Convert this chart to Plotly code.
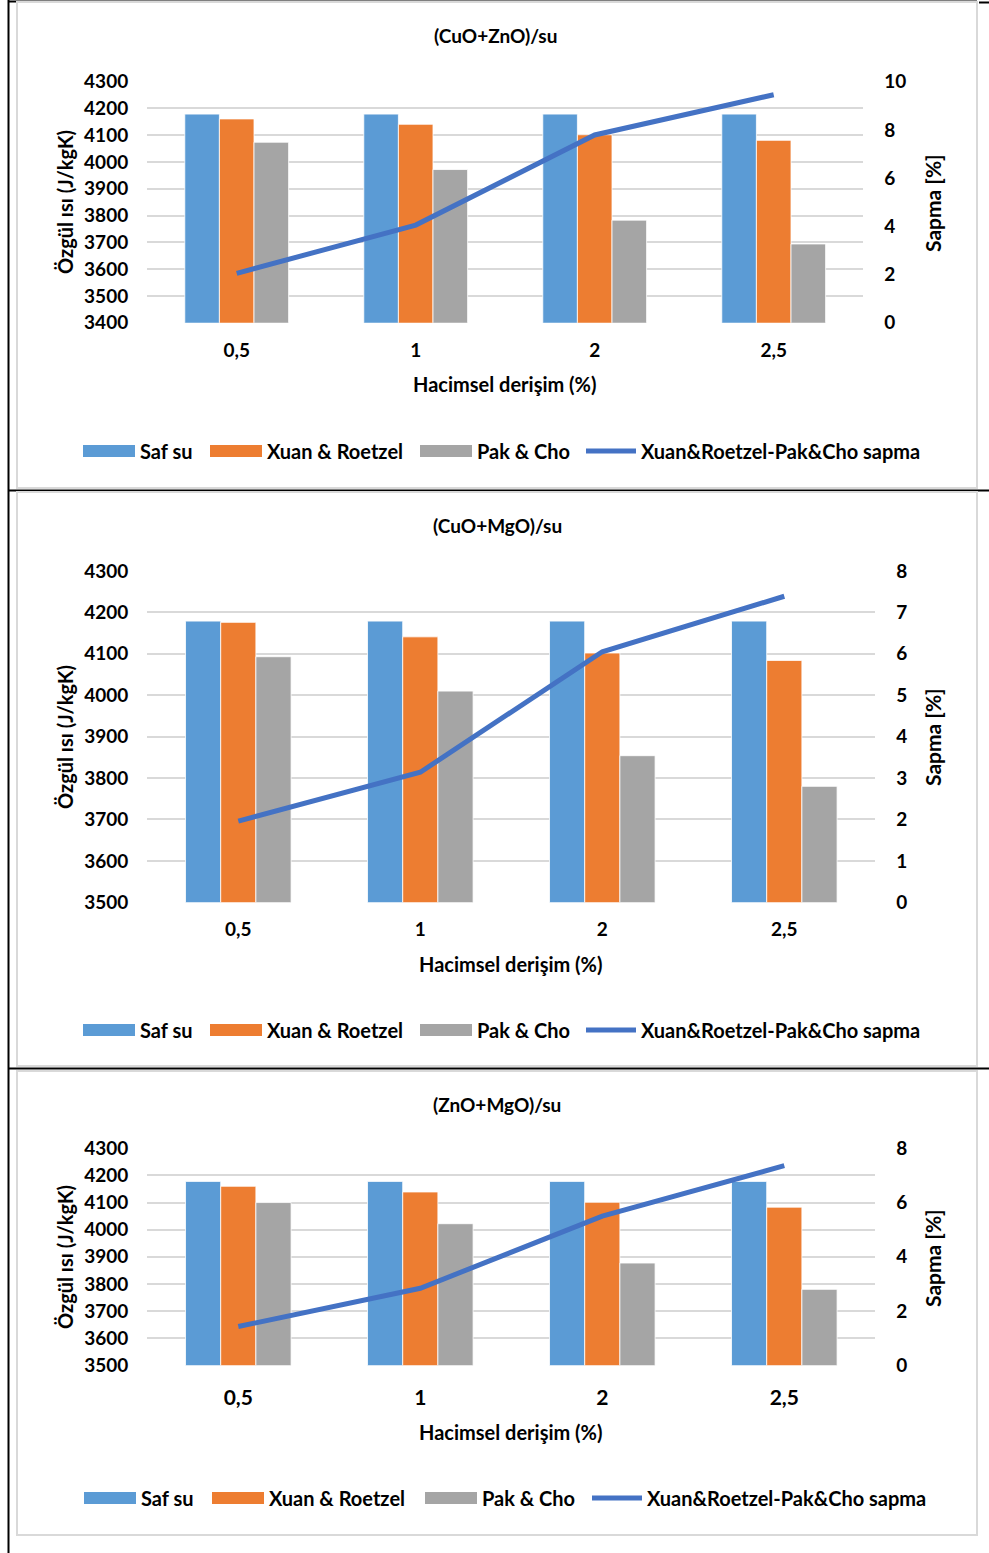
import plotly.graph_objects as go

# ---- data -------------------------------------------------------------
categories = ["0,5", "1", "2", "2,5"]
series_names = ["Saf su", "Xuan & Roetzel", "Pak & Cho"]
line_name = "Xuan&Roetzel-Pak&Cho sapma"

chart_titles = ["(CuO+ZnO)/su", "(CuO+MgO)/su", "(ZnO+MgO)/su"]

cuo_zno_saf_su = [4179, 4179, 4179, 4179]
cuo_zno_xuan = [4161, 4141, 4102, 4081]
cuo_zno_pak = [4074, 3972, 3783, 3694]
cuo_zno_sapma = [2.05, 4.05, 7.79, 9.46]

cuo_mgo_saf_su = [4179, 4179, 4179, 4179]
cuo_mgo_xuan = [4176, 4141, 4102, 4084]
cuo_mgo_pak = [4093, 4010, 3854, 3780]
cuo_mgo_sapma = [1.96, 3.14, 6.05, 7.39]

zno_mgo_saf_su = [4178, 4178, 4178, 4178]
zno_mgo_xuan = [4160, 4139, 4101, 4083]
zno_mgo_pak = [4100, 4022, 3877, 3780]
zno_mgo_sapma = [1.43, 2.84, 5.50, 7.36]

left_ranges = [(3400, 4300), (3500, 4300), (3500, 4300)]
right_ranges = [(0, 10, 2), (0, 8, 1), (0, 8, 2)]

y_title = "Özgül ısı (J/kgK)"
y2_title = "Sapma [%]"
x_title = "Hacimsel derişim (%)"

# ---- styling ------------------------------------------------------------
W, H = 989, 1553
FONT = "Lato"
BAR_COLORS = ["#5B9BD5", "#ED7D31", "#A5A5A5"]
LINE_COLOR = "#4472C4"
GRID = "#D9D9D9"

bar_data = [
    (cuo_zno_saf_su, cuo_zno_xuan, cuo_zno_pak, cuo_zno_sapma),
    (cuo_mgo_saf_su, cuo_mgo_xuan, cuo_mgo_pak, cuo_mgo_sapma),
    (zno_mgo_saf_su, zno_mgo_xuan, zno_mgo_pak, zno_mgo_sapma),
]

# pixel geometry of each panel: plot area, text rows, frame box
panels = [
    dict(px=(147.2, 863.2), py=(81.7, 322.7), title_y=36, title_x=495,
         xt_y=384, xt_x=505, yt_y=202, y2t_y=203, leg_y=451,
         box=(17, 2, 977, 488), xtick=19, xstand=14, leg_x=(83, 210, 420, 584)),
    dict(px=(147.3, 875.3), py=(571, 902.3), title_y=525, title_x=497,
         xt_y=964, xt_x=511, yt_y=737, y2t_y=737, leg_y=1030,
         box=(17, 492, 977, 1066), xtick=19, xstand=14, leg_x=(83, 210, 420, 584)),
    dict(px=(147.3, 875.3), py=(1148.3, 1365.3), title_y=1104, title_x=497,
         xt_y=1432, xt_x=511, yt_y=1257, y2t_y=1258, leg_y=1498,
         box=(17, 1071, 977, 1535), xtick=21, xstand=18, leg_x=(84, 212, 425, 590)),
]


def fx(px):
    return px / W


def fy(py):
    return 1 - py / H


fig = go.Figure()
shapes = []
annotations = []

# table frame lines
shapes.append(dict(type="line", xref="paper", yref="paper", x0=fx(8.5), x1=fx(8.5),
                   y0=0, y1=1, line=dict(color="black", width=2)))
for yy, x0, x1 in [(1.5, 8, 977), (2.5, 979, 989), (490.5, 8, 989), (1068.5, 8, 989)]:
    shapes.append(dict(type="line", xref="paper", yref="paper", x0=fx(x0), x1=fx(x1),
                       y0=fy(yy), y1=fy(yy), line=dict(color="black", width=2)))

for i, (p, data) in enumerate(zip(panels, bar_data), start=1):
    xa = "x" if i == 1 else f"x{i}"
    ya_left = 2 * i - 1
    ya_right = 2 * i
    yl = "y" if ya_left == 1 else f"y{ya_left}"
    yr = f"y{ya_right}"

    for name, vals, col in zip(series_names, data[:3], BAR_COLORS):
        fig.add_trace(go.Bar(x=categories, y=vals, name=name, xaxis=xa, yaxis=yl,
                             marker=dict(color=col, line=dict(color="white", width=0.8)),
                             showlegend=False))
    fig.add_trace(go.Scatter(x=categories, y=data[3], name=line_name, xaxis=xa, yaxis=yr,
                             mode="lines", line=dict(color=LINE_COLOR, width=5),
                             showlegend=False))

    lo, hi = left_ranges[i - 1]
    r0, r1, rd = right_ranges[i - 1]
    tick_font = dict(family=FONT, size=19, color="black", weight="bold")

    fig.layout[f"xaxis{'' if i == 1 else i}"] = dict(
        domain=[fx(p["px"][0]), fx(p["px"][1])], anchor=yl, type="category",
        showgrid=False, zeroline=False, showline=False, ticks="", automargin=False,
        tickfont=dict(family=FONT, size=p["xtick"], color="black", weight="bold"),
        ticklabelstandoff=p["xstand"],
    )
    fig.layout[f"yaxis{'' if ya_left == 1 else ya_left}"] = dict(
        domain=[fy(p["py"][1]), fy(p["py"][0])], anchor=xa, range=[lo, hi], dtick=100,
        showgrid=True, gridcolor=GRID, gridwidth=2, zeroline=False, showline=False,
        ticks="", tickfont=tick_font, ticklabelstandoff=18, automargin=False,
    )
    fig.layout[f"yaxis{ya_right}"] = dict(
        overlaying=yl, side="right", anchor=xa, range=[r0, r1], dtick=rd,
        showgrid=False, zeroline=False, showline=False, ticks="", automargin=False,
        tickfont=tick_font, ticklabelstandoff=20,
    )

    # chart border
    bx0, by0, bx1, by1 = p["box"]
    shapes.append(dict(type="rect", xref="paper", yref="paper", x0=fx(bx0), x1=fx(bx1),
                       y0=fy(by1), y1=fy(by0), line=dict(color=GRID, width=2)))

    # titles
    bold = dict(family=FONT, color="black", weight="bold")
    annotations.append(dict(text=chart_titles[i - 1], x=fx(p["title_x"]), y=fy(p["title_y"]),
                            xref="paper", yref="paper", showarrow=False,
                            xanchor="center", yanchor="middle", font=dict(size=19, **bold)))
    annotations.append(dict(text=x_title, x=fx(p["xt_x"]), y=fy(p["xt_y"]),
                            xref="paper", yref="paper", showarrow=False,
                            xanchor="center", yanchor="middle", font=dict(size=20, **bold)))
    annotations.append(dict(text=y_title, x=fx(65), y=fy(p["yt_y"]), textangle=-90,
                            xref="paper", yref="paper", showarrow=False,
                            xanchor="center", yanchor="middle", font=dict(size=20, **bold)))
    annotations.append(dict(text=y2_title, x=fx(932), y=fy(p["y2t_y"]), textangle=-90,
                            xref="paper", yref="paper", showarrow=False,
                            xanchor="center", yanchor="middle", font=dict(size=21, **bold)))

    # legend row
    ly = p["leg_y"]
    for k, (name, col) in enumerate(zip(series_names, BAR_COLORS)):
        sx = p["leg_x"][k]
        shapes.append(dict(type="rect", xref="paper", yref="paper", x0=fx(sx), x1=fx(sx + 52),
                           y0=fy(ly + 6), y1=fy(ly - 6), fillcolor=col, line=dict(width=0)))
        annotations.append(dict(text=name, x=fx(sx + 55), y=fy(ly), xref="paper", yref="paper",
                                showarrow=False, xanchor="left", yanchor="middle",
                                font=dict(size=20, **bold)))
    sx = p["leg_x"][3]
    shapes.append(dict(type="line", xref="paper", yref="paper", x0=fx(sx + 2), x1=fx(sx + 52),
                       y0=fy(ly), y1=fy(ly), line=dict(color=LINE_COLOR, width=5)))
    annotations.append(dict(text=line_name, x=fx(sx + 55), y=fy(ly), xref="paper", yref="paper",
                            showarrow=False, xanchor="left", yanchor="middle",
                            font=dict(size=20, **bold)))

fig.update_layout(
    width=W, height=H, autosize=False,
    margin=dict(l=0, r=0, t=0, b=0, autoexpand=False),
    paper_bgcolor="white", plot_bgcolor="rgba(0,0,0,0)",
    barmode="group", bargap=0.42, bargroupgap=0,
    showlegend=False,
    font=dict(family=FONT, color="black"),
    shapes=shapes, annotations=annotations,
)

fig.write_html("out.html")
